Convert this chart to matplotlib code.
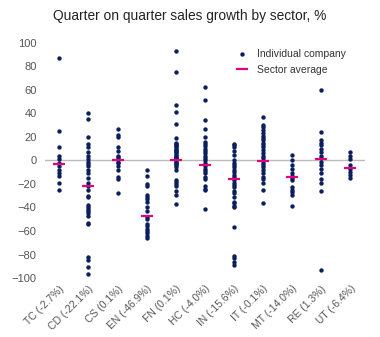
import numpy as np
import matplotlib
matplotlib.use("Agg")
import matplotlib.pyplot as plt

plt.rcParams['font.family'] = ['Liberation Sans', 'DejaVu Sans']

# sectors and their average growth (as given in the labels)
sectors = ['TC', 'CD', 'CS', 'EN', 'FN', 'HC', 'IN', 'IT', 'MT', 'RE', 'UT']
averages = [-2.7, -22.1, 0.1, -46.9, 0.1, -4.0, -15.6, -0.1, -14.0, 1.3, -6.4]

# individual company growth
tc = [87, 25, 11, 4, 1, -2, -5, -8, -11, -13, -19, -25]
cd = [40, 35, 20, 14, 11, 7, 4, 1, -1, -3, -5, -8, -11, -15, -19, -22, -25,
      -30, -31, -38, -40, -41, -43, -45, -47, -53, -54, -82, -85, -91, -97]
cs = [27, 22, 20, 11, 8, 4, 3, 1, -1, -2, -5, -8, -14, -16, -28]
en = [-8, -13, -20, -22, -29, -31, -33, -35, -40, -43, -48, -50, -54, -56,
      -58, -60, -62, -64, -66]
fn = [93, 75, 47, 41, 31, 19, 15, 14, 13, 12, 11, 10, 9, 8, 7, 6, 5, 4, 3, 2,
      1, 0, -1, -2, -3, -4, -6, -8, -17, -18, -20, -22, -26, -29, -37]
hc = [62, 51, 34, 27, 20, 16, 14, 12, 10, 8, 6, 4, 2, 0, -2, -5, -7, -9, -11,
      -14, -16, -22, -24, -25, -41]
in_ = [14, 13, 11, 8, 5, 0, -2, -4, -6, -8, -10, -12, -14, -17, -19, -21, -23,
       -26, -28, -31, -35, -36, -39, -40, -57, -81, -83, -86, -89]
it = [37, 30, 28, 26, 23, 21, 19, 17, 15, 13, 11, 9, 6, 4, 2, -2, -4, -6, -8,
      -11, -14, -16, -19, -25, -36]
mt = [5, 0, -4, -7, -11, -13, -15, -17, -23, -25, -27, -29, -39]
re = [60, 24, 17, 15, 13, 10, 7, 4, 2, -1, -4, -7, -11, -16, -19, -26, -93]
ut = [7, 4, 1, -4, -7, -10, -12, -15]
companies = [tc, cd, cs, en, fn, hc, in_, it, mt, re, ut]

navy = '#0b1f5e'
pink = '#e5007d'
grey = '#555555'

fig = plt.figure(figsize=(3.8, 3.37), dpi=100)
ax = fig.add_axes([0.118, 0.175, 0.842, 0.698])

ax.axhline(0, color='#bbbbbb', lw=1, zorder=1)

for i, vals in enumerate(companies):
    ax.scatter(np.full(len(vals), i), vals, s=10, color=navy, lw=0, zorder=2,
               label='Individual company' if i == 0 else None)
ax.plot(np.arange(len(sectors)), averages, ls='none', marker='_', ms=9,
        mew=1.6, color=pink, zorder=3, label='Sector average')

labels = [f'{s} ({a:.1f}%)' for s, a in zip(sectors, averages)]
ax.set_xticks(np.arange(len(sectors)))
ax.set_xticklabels(labels, rotation=45, ha='right', rotation_mode='anchor',
                   fontsize=7.5, color=grey)
ax.set_xlim(-0.5, 10.5)
ax.set_ylim(-100, 100)
ax.set_yticks(np.arange(-100, 101, 20))
ax.tick_params(axis='y', labelsize=8, colors=grey, length=0, pad=6)
ax.tick_params(axis='x', length=0, pad=4)
for sp in ax.spines.values():
    sp.set_visible(False)

leg = ax.legend(loc='upper right', bbox_to_anchor=(0.97, 1.015), frameon=False,
                fontsize=7.5, handlelength=1.2, handletextpad=0.8,
                labelspacing=0.6)
for t in leg.get_texts():
    t.set_color('#333333')

fig.suptitle('Quarter on quarter sales growth by sector, %', fontsize=9.9,
             y=0.972, color='#222222')

fig.savefig('out.png', dpi=100)
